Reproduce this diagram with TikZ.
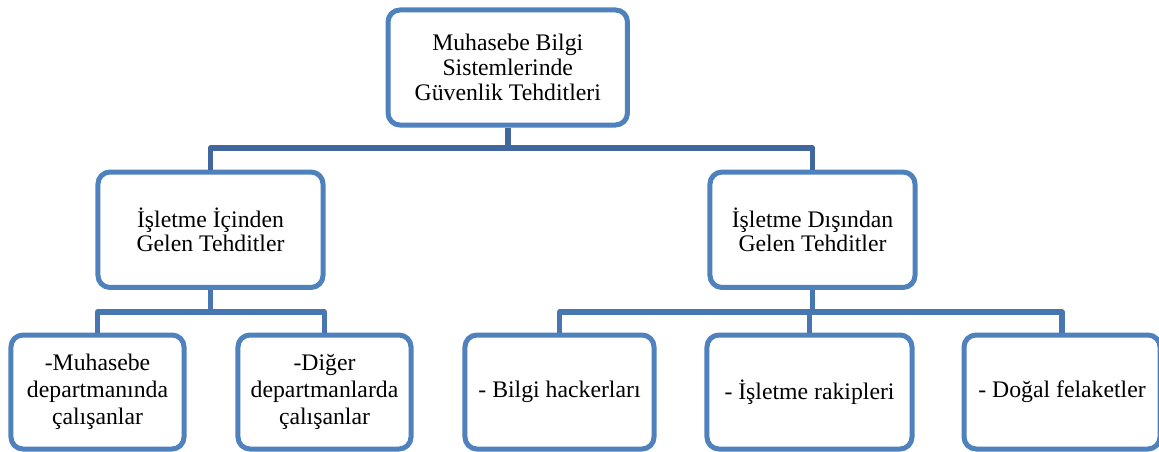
\documentclass[tikz,border=0pt]{standalone}
\usepackage{fontspec}
\setmainfont{Liberation Serif}
\definecolor{boxblue}{RGB}{79,129,189}
\definecolor{connA}{RGB}{64,104,158}
\definecolor{connB}{RGB}{72,118,176}
\tikzset{
  tbox/.style={draw=boxblue, fill=white, line width=3.75pt, rounded corners=9pt,
    inner sep=0pt, align=center, font=\fontsize{17.8}{18.6}\selectfont},
  lowbox/.style={tbox, font=\fontsize{17.8}{20.2}\selectfont},
  connTop/.style={draw=connA, line width=4.2pt, line join=round},
  connLow/.style={draw=connB, line width=4pt, line join=round},
}
\begin{document}
\begin{tikzpicture}[x=0.75pt,y=-0.75pt]
\useasboundingbox (0,0) rectangle (1159,452);
% connectors first (behind boxes)
\coordinate (j1) at (507.75,148);
\coordinate (j2) at (210.5,312);
\coordinate (j3) at (812.5,312);
% boxes
\node[tbox, minimum width=179.6pt, minimum height=86.3pt] (top) at (507.75,67.5)
  {Muhasebe Bilgi\\Sistemlerinde\\Güvenlik Tehditleri};
\node[tbox, minimum width=168.8pt, minimum height=86.6pt] (midL) at (210.5,229.75)
  {İşletme İçinden\\Gelen Tehditler};
\node[tbox, minimum width=153.8pt, minimum height=86.6pt] (midR) at (812.5,229.75)
  {İşletme Dışından\\Gelen Tehditler};
\node[lowbox, minimum width=129.8pt, minimum height=85.5pt] (b1) at (97.5,392)
  {-Muhasebe\\departmanında\\çalışanlar};
\node[lowbox, minimum width=129.8pt, minimum height=85.5pt] (b2) at (324.5,392)
  {-Diğer\\departmanlarda\\çalışanlar};
\node[lowbox, minimum width=141.8pt, minimum height=85.5pt] (b3) at (559.5,392)
  {- Bilgi hackerları};
\node[lowbox, minimum width=153.8pt, minimum height=85.5pt] (b4) at (809.5,392)
  {- İşletme rakipleri};
\node[lowbox, minimum width=147pt, minimum height=85.5pt] (b5) at (1062,392)
  {- Doğal felaketler};
% connectors
\draw[connTop] (top.south) -- (j1);
\draw[connTop] (midL.north) -- (midL.north |- j1) -- (midR.north |- j1) -- (midR.north);
\draw[connLow] (midL.south) -- (j2);
\draw[connLow] (b1.north) -- (b1.north |- j2) -- (b2.north |- j2) -- (b2.north);
\draw[connLow] (midR.south) -- (j3);
\draw[connLow] (b3.north) -- (b3.north |- j3) -- (b5.north |- j3) -- (b5.north);
\draw[connLow] (b4.north) -- (b4.north |- j3);
\end{tikzpicture}
\end{document}
